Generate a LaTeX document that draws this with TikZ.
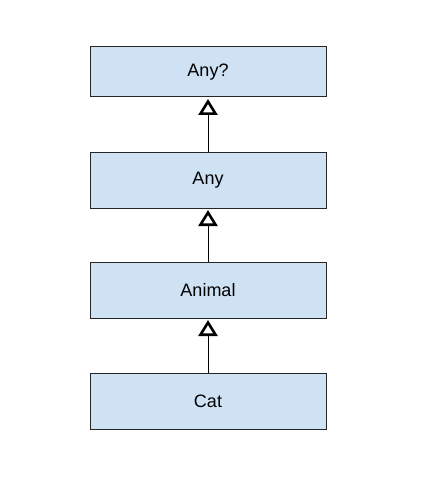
\documentclass[tikz,border=0pt]{standalone}
\usepackage{fontspec}
\setmainfont{Liberation Sans}
\usepackage{xcolor}
\usetikzlibrary{arrows.meta, positioning}

\definecolor{boxblue}{HTML}{CFE2F3}

\begin{document}
\begin{tikzpicture}[
    x=1pt, y=1pt,
    node distance=54pt,
    box/.style={draw=black!85, line width=1pt, fill=boxblue, minimum width=236pt, minimum height=56pt, inner sep=0pt, font=\fontsize{18}{20}\selectfont},
    inherit/.style={-{Triangle[open, length=16pt, width=19pt, line width=2.6pt]}, line width=1pt, shorten >=1.5pt}
]
\useasboundingbox (0,0) rectangle (443,-492);

% type hierarchy
\node[box, minimum height=50pt] (anyq) at (208,-72) {Any?};
\node[box, below=of anyq] (any) {Any};
\node[box, below=53pt of any] (animal) {Animal};
\node[box, below=of animal] (cat) {Cat};

% subtype arrows
\draw[inherit] (any) -- (anyq);
\draw[inherit] (animal) -- (any);
\draw[inherit] (cat) -- (animal);

\end{tikzpicture}
\end{document}
